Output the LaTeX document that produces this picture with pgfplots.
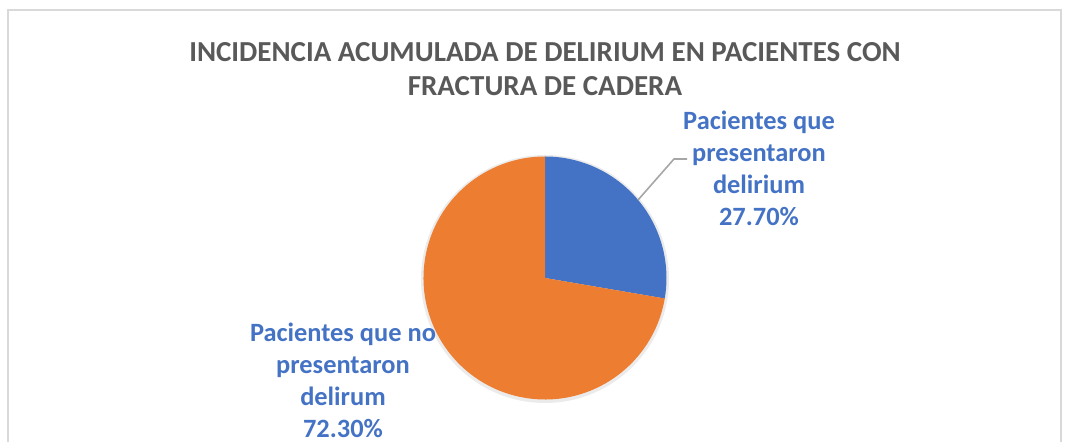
\documentclass[border=0pt]{standalone}
\usepackage{pgfplots}
\usepackage{pgfplotstable}
\pgfplotsset{compat=1.18}
\usepackage{fontspec}
\setmainfont{Carlito}
\definecolor{pieblue}{HTML}{4472C4}
\definecolor{pieorange}{HTML}{ED7D31}
\definecolor{titlegray}{HTML}{595959}
\definecolor{framegray}{HTML}{D9D9D9}
\definecolor{leadergray}{HTML}{A6A6A6}
\pgfplotstableread{
id value
1 27.7
2 72.3
}\piedata
\pgfplotstablegetelem{0}{value}\of\piedata
\let\valA\pgfplotsretval
\pgfplotstablegetelem{1}{value}\of\piedata
\let\valB\pgfplotsretval
\pgfmathsetmacro{\angA}{90-3.6*\valA}
\pgfmathsetmacro{\angB}{\angA-3.6*\valB}
\begin{document}
\begin{tikzpicture}
\begin{axis}[
  scale only axis, width=535.5pt, height=221pt,
  xmin=0, xmax=1071, ymin=0, ymax=442,
  axis lines=none, clip=false,
]
% frame
\draw[framegray, line width=1pt] (axis cs:8,-5) -- (axis cs:8,432) -- (axis cs:1061,432) -- (axis cs:1061,-5);
% title
\node[font=\fontsize{14.5}{17}\selectfont\bfseries, text=titlegray, align=center, anchor=north] at (axis cs:545,407)
  {INCIDENCIA ACUMULADA DE DELIRIUM EN PACIENTES CON\\FRACTURA DE CADERA};
% shadow
\fill[black, opacity=0.08] (axis cs:545,163) circle[radius=62pt];
% slices
\fill[pieblue] (axis cs:545,164) -- ++(90:60.75pt) arc[start angle=90, end angle=\angA, radius=60.75pt] -- cycle;
\fill[pieorange] (axis cs:545,164) -- ++(\angA:60.75pt) arc[start angle=\angA, end angle=\angB, radius=60.75pt] -- cycle;
% leader line
\draw[leadergray, line width=0.8pt] (axis cs:638,242) -- (axis cs:674,283) -- (axis cs:687,283);
% labels
\node[font=\fontsize{13.2}{16}\selectfont\bfseries, text=pieblue, align=center, anchor=north] at (axis cs:759,338)
  {Pacientes que\\presentaron\\delirium\\\valA0\%};
\node[font=\fontsize{13.2}{16}\selectfont\bfseries, text=pieblue, align=center, anchor=north] at (axis cs:343,126)
  {Pacientes que no\\presentaron\\delirum\\\valB0\%};
\end{axis}
\pgfresetboundingbox
\useasboundingbox (current axis.south west) rectangle (current axis.north east);
\end{tikzpicture}
\end{document}
